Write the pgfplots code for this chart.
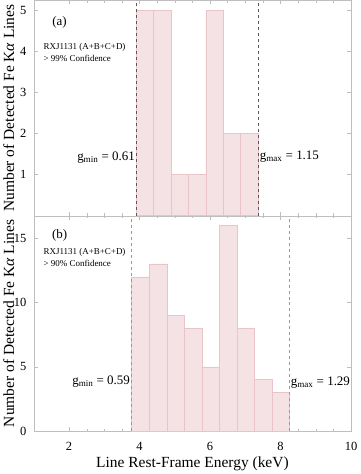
\documentclass[border=0pt]{standalone}
\usepackage{pgfplots}
\pgfplotsset{compat=1.18}
\usepackage{fontspec}
\setmainfont{Liberation Serif}
\definecolor{barfill}{RGB}{245,226,228}
\definecolor{baredge}{RGB}{233,196,200}
\definecolor{framegray}{RGB}{190,190,190}
\pgfplotsset{
  panel/.style={
    scale only axis, width=318pt, height=216pt,
    xmin=1, xmax=10,
    xtick={2,4,6,8,10}, minor x tick num=3,
    tick align=inside, tick pos=both,
    axis line style={framegray},
    every tick/.style={framegray},
    major tick length=4pt, minor tick length=2.5pt,
    /pgf/number format/assume math mode=true,
    tick label style={font=\fontsize{12.5}{14}\selectfont},
    xticklabel style={yshift=-8pt},
    yticklabel style={xshift=-4pt},
    label style={font=\fontsize{15.5}{17}\selectfont},
    ylabel={Number of Detected Fe K\textit{α} Lines},
    ylabel style={at={(axis description cs:0,0.5)}, anchor=south, yshift=16pt},
    clip=false,
  }
}
\begin{document}
\begin{tikzpicture}
\begin{axis}[panel, name=a, ymin=0, ymax=5.25, ytick={1,2,3,4,5}, xticklabels={}]
\addplot[ybar interval, fill=barfill, draw=baredge, line width=0.5pt] coordinates {
(3.904,5) (4.398,5) (4.891,1) (5.385,1) (5.879,5) (6.373,2) (6.866,2) (7.360,2)};
\addplot[dashed, draw=black!65, line width=0.6pt] coordinates {(3.904,0) (3.904,5.25)};
\addplot[dashed, draw=black!65, line width=0.6pt] coordinates {(7.360,0) (7.360,5.25)};
\node[font=\fontsize{13}{15}\selectfont] at (axis cs:1.73,4.71) {(a)};
\node[anchor=north west, align=left, inner sep=0pt, font=\fontsize{9}{11.5}\selectfont] at (axis cs:1.27,4.2) {RXJ1131 (A+B+C+D)\\ \textgreater{} 99\% Confidence};
\node[anchor=east, inner sep=1pt, font=\fontsize{13}{15}\selectfont] at (axis cs:3.90,1.41) {g\textsubscript{min} = 0.61};
\node[anchor=west, inner sep=1pt, font=\fontsize{13}{15}\selectfont] at (axis cs:7.38,1.44) {g\textsubscript{max} = 1.15};
\end{axis}
\begin{axis}[panel, at={(a.south west)}, anchor=north west, ymin=0, ymax=16.75, ytick={0,5,10,15},
  xlabel={Line Rest-Frame Energy (keV)},
  xlabel style={at={(axis description cs:0.5,0)}, anchor=north, yshift=-22pt}]
\addplot[ybar interval, fill=barfill, draw=baredge, line width=0.5pt] coordinates {
(3.776,12) (4.274,13) (4.772,9) (5.269,8) (5.767,5) (6.265,16) (6.763,8) (7.260,4) (7.758,3) (8.256,3)};
\addplot[dashed, draw=black!40, line width=0.6pt] coordinates {(3.776,0) (3.776,16.75)};
\addplot[dashed, draw=black!40, line width=0.6pt] coordinates {(8.256,0) (8.256,16.75)};
\node[font=\fontsize{13}{15}\selectfont] at (axis cs:1.73,15.2) {(b)};
\node[anchor=north west, align=left, inner sep=0pt, font=\fontsize{9}{11.5}\selectfont] at (axis cs:1.27,14.2) {RXJ1131 (A+B+C+D)\\ \textgreater{} 90\% Confidence};
\node[anchor=east, inner sep=1pt, font=\fontsize{13}{15}\selectfont] at (axis cs:3.76,3.85) {g\textsubscript{min} = 0.59};
\node[anchor=west, inner sep=1pt, font=\fontsize{13}{15}\selectfont] at (axis cs:8.26,3.78) {g\textsubscript{max} = 1.29};
\end{axis}
\end{tikzpicture}
\end{document}
